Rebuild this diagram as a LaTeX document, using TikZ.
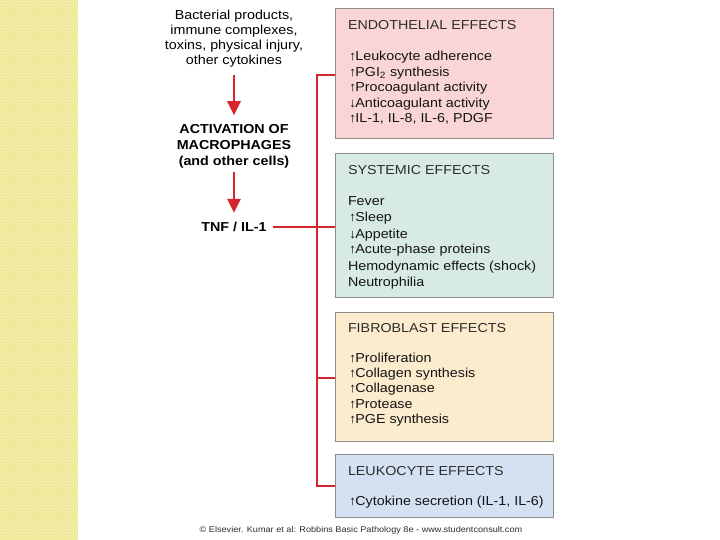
\documentclass[tikz,border=0pt]{standalone}
\usepackage{fontspec}
\setmainfont{Liberation Sans}[FakeStretch=1.1]
\usetikzlibrary{arrows.meta,patterns}
\definecolor{redl}{RGB}{212,38,44}
\definecolor{stripeA}{RGB}{238,231,150}
\definecolor{stripeB}{RGB}{250,247,210}
\definecolor{endoF}{RGB}{249,214,213}
\definecolor{sysF}{RGB}{216,235,227}
\definecolor{fibF}{RGB}{252,235,205}
\definecolor{leukF}{RGB}{212,225,243}
\definecolor{boxD}{RGB}{140,140,140}
\definecolor{titleC}{RGB}{45,45,45}
\definecolor{itemC}{RGB}{20,20,20}
\newcommand\upa{{\bfseries ↑}\kern-0.8pt}
\newcommand\dna{{\bfseries ↓}\kern-0.8pt}
\tikzset{
  effbox/.style={draw=boxD, line width=0.8pt, minimum width=218pt, inner sep=0pt, outer sep=0pt},
  txt/.style={inner sep=0pt, outer sep=0pt, font=\fontsize{13}{15.5}\selectfont, text=itemC},
  ttl/.style={txt, text=titleC, anchor=base west},
  itm/.style={txt, anchor=base west},
  lft/.style={txt, anchor=base, text=black},
  lftb/.style={lft, font=\fontsize{13}{15.5}\selectfont\bfseries},
  redarr/.style={draw=redl, line width=2.7pt, -{Triangle[length=14pt,width=13pt]}},
  redln/.style={draw=redl, line width=2.5pt},
}
\begin{document}
\begin{tikzpicture}[x=1pt,y=-1pt]
\useasboundingbox (0,0) rectangle (720,540);
\fill[white] (0,0) rectangle (720,540);
\fill[stripeA] (0,0) rectangle (78,540);
\fill[pattern=crosshatch dots, pattern color=stripeB] (0,0) rectangle (78,540);

% boxes
\node[effbox, fill=endoF, minimum height=130pt] (endo) at (444,73) {};
\node[effbox, fill=sysF, minimum height=144pt] (sys) at (444,225) {};
\node[effbox, fill=fibF, minimum height=129pt] (fib) at (444,376.5) {};
\node[effbox, fill=leukF, minimum height=63pt] (leuk) at (444,485.5) {};

% endothelial
\node[ttl] (e0) at (348,29.5) {ENDOTHELIAL EFFECTS};
\node[itm] (e1) at (349,61) {\upa Leukocyte adherence};
\node[itm] (e2) at (349,76.5) {\upa PGI\textsubscript{2} synthesis};
\node[itm] (e3) at (349,92) {\upa Procoagulant activity};
\node[itm] (e4) at (349,107.5) {\dna Anticoagulant activity};
\node[itm] (e5) at (349,123) {\upa IL-1, IL-8, IL-6, PDGF};

% systemic
\node[ttl] (s0) at (348,175) {SYSTEMIC EFFECTS};
\node[itm] (s1) at (348,206) {Fever};
\node[itm] (s2) at (349,222) {\upa Sleep};
\node[itm] (s3) at (349,238) {\dna Appetite};
\node[itm] (s4) at (349,254) {\upa Acute-phase proteins};
\node[itm] (s5) at (348,270) {Hemodynamic effects (shock)};
\node[itm] (s6) at (348,286) {Neutrophilia};

% fibroblast
\node[ttl] (f0) at (348,332.7) {FIBROBLAST EFFECTS};
\node[itm] (f1) at (349,362.3) {\upa Proliferation};
\node[itm] (f2) at (349,377.5) {\upa Collagen synthesis};
\node[itm] (f3) at (349,392.8) {\upa Collagenase};
\node[itm] (f4) at (349,408) {\upa Protease};
\node[itm] (f5) at (349,423.3) {\upa PGE synthesis};

% leukocyte
\node[ttl] (l0) at (348,475) {LEUKOCYTE EFFECTS};
\node[itm] (l1) at (349,505) {\upa Cytokine secretion (IL-1, IL-6)};

% left column
\node[lft] (b1) at (234,19.3) {Bacterial products,};
\node[lft] (b2) at (234,34.5) {immune complexes,};
\node[lft] (b3) at (234,49.8) {toxins, physical injury,};
\node[lft] (b4) at (234,65) {other cytokines};
\node[lftb] (a1) at (234,134) {ACTIVATION OF};
\node[lftb] (a2) at (234,150) {MACROPHAGES};
\node[lftb] (a3) at (234,165.5) {(and other cells)};
\node[lftb] (tnf) at (234,231.7) {TNF / IL-1};

\draw[redarr, shorten <=7.3pt, shorten >=9.7pt] (b4.south) -- (a1.north);
\draw[redarr, shorten <=3.8pt, shorten >=9.4pt] (a3.south) -- (tnf.north);

% connectors
\coordinate (bt) at (317,75);
\coordinate (fs) at (317,378);
\coordinate (bb) at (317,486);
\draw[redln, shorten <=6.5pt] (tnf.east) -- (tnf.east -| sys.west);
\draw[redln] (endo.west |- bt) -- (bt) -- (bb) -- (leuk.west |- bb);
\draw[redln] (fs) -- (fib.west |- fs);

% footer
\node[txt, anchor=base, font=\fontsize{8.3}{10}\selectfont, text=titleC] (foot) at (361,532) {© Elsevier. Kumar et al: Robbins Basic Pathology 8e - www.studentconsult.com};
\end{tikzpicture}
\end{document}
